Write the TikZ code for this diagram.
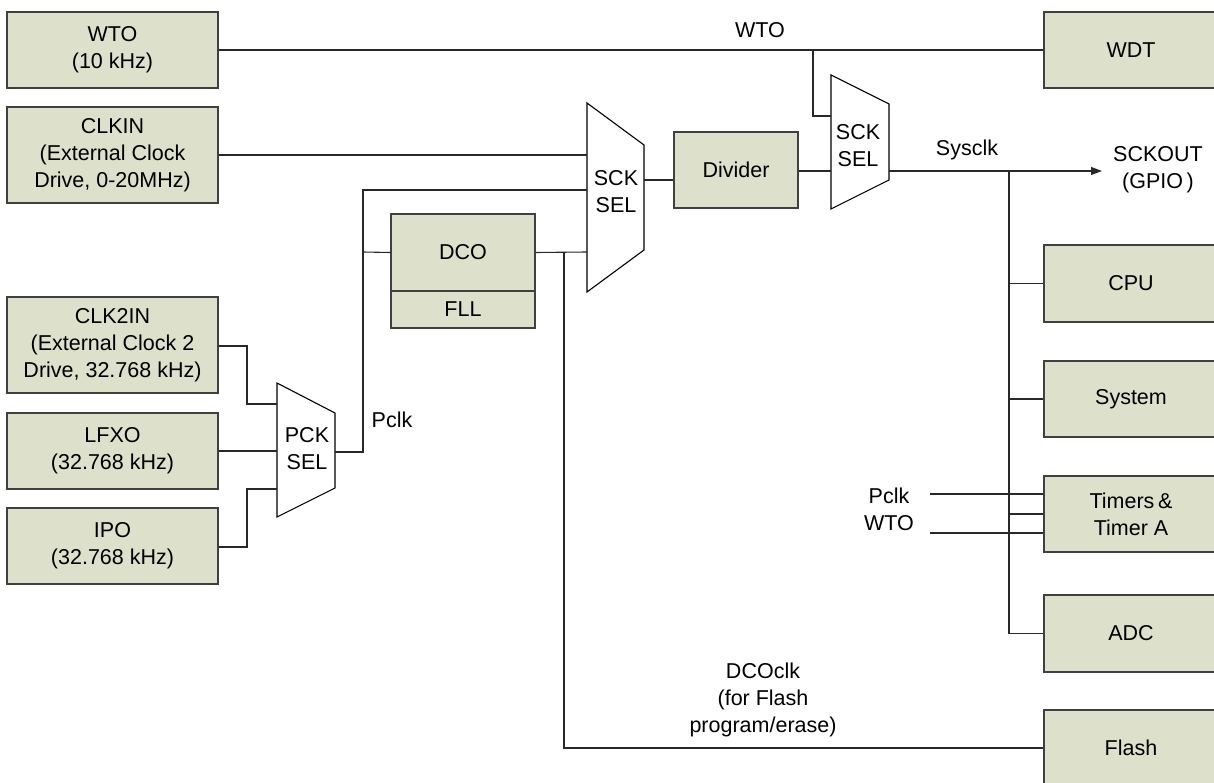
\documentclass[tikz,border=0pt]{standalone}
\usepackage{fontspec}
\setmainfont{Liberation Sans}
\usetikzlibrary{arrows.meta}
\definecolor{boxfill}{RGB}{221,224,203}
\definecolor{boxline}{RGB}{64,64,64}
\definecolor{wire}{RGB}{40,40,40}
\begin{document}
\begin{tikzpicture}[x=1pt,y=-1pt,
  every node/.style={font=\fontsize{21.5}{27}\selectfont, align=center, inner sep=0pt},
  blk/.style={draw=boxline, fill=boxfill, line width=1.2pt, minimum width=#1, anchor=center},
  blk/.default=211pt,
  muxshape/.style={draw=black, fill=white, line width=1.1pt, line join=miter},
  wireline/.style={draw=wire, line width=1.1pt}]
\useasboundingbox (0,0) rectangle (1214,783);
\clip (0,0) rectangle (1214,783);

% left source boxes
\node[blk, minimum height=76pt] (wto) at (112.5,50) {WTO\\(10 kHz)};
\node[blk, minimum height=96pt] (clkin) at (112.5,155) {CLKIN\\(External Clock\\Drive, 0-20MHz)};
\node[blk, minimum height=96pt] (clk2in) at (112.5,345) {CLK2IN\\(External Clock 2\\Drive, 32.768 kHz)};
\node[blk, minimum height=76pt] (lfxo) at (112.5,451) {LFXO\\(32.768 kHz)};
\node[blk, minimum height=76pt] (ipo) at (112.5,546) {IPO\\(32.768 kHz)};

% DCO / FLL
\node[blk=144pt, minimum height=77pt] (dco) at (463,252.5) {DCO};
\node[blk=144pt, minimum height=37pt] (fll) at (463,309.5) {FLL};

% Divider
\node[blk=124pt, minimum height=76pt] (div) at (736,170) {Divider};

% right sink boxes
\node[blk=174pt, minimum height=76pt] (wdt) at (1131,50) {WDT};
\node[blk=174pt, minimum height=77pt] (cpu) at (1131,283.5) {CPU};
\node[blk=174pt, minimum height=76pt] (sys) at (1131,399) {System};
\node[blk=174pt, minimum height=76pt] (tim) at (1131,514) {Timers\,\&\\Timer A};
\node[blk=174pt, minimum height=77pt] (adc) at (1131,633.5) {ADC};
\node[blk=174pt, minimum height=76pt] (flash) at (1131,748) {Flash};

% multiplexers
\draw[muxshape] (587,103) -- (644,145) -- (644,250) -- (587,292) -- cycle;
\node (sck1) at (616,192) {SCK\\SEL};
\draw[muxshape] (831,75) -- (889,104) -- (889,180) -- (831,209) -- cycle;
\node (sck2) at (858,146) {SCK\\SEL};
\draw[muxshape] (277,383) -- (335,413) -- (335,488) -- (277,517) -- cycle;
\node (pck) at (307,449) {PCK\\SEL};

% mux ports
\coordinate (m1a) at (587,155);
\coordinate (m1b) at (587,190);
\coordinate (m1c) at (587,252);
\coordinate (m1o) at (644,180);
\coordinate (m2a) at (831,116);
\coordinate (m2b) at (831,171);
\coordinate (m2o) at (889,171);
\coordinate (pa) at (277,404);
\coordinate (pb) at (277,451);
\coordinate (pc) at (277,489);
\coordinate (po) at (335,452);
\coordinate (wtoj) at (813,50);
\coordinate (pclkj) at (363,252);
\coordinate (dcoj) at (564,252);
\coordinate (busj) at (1009,171);
\coordinate (sckout) at (1102,171);
\coordinate (tpclk) at (930,494);
\coordinate (twto) at (930,533);

% connectors
\draw[wireline] (wto.east) -- (wdt.west);
\draw[wireline] (wtoj) -- (813,116) -- (m2a);
\draw[wireline] (clkin.east) -- (m1a);
\draw[wireline] (clk2in.east |- 0,346) -- (247,346) -- (247,404) -- (pa);
\draw[wireline] (lfxo.east) -- (pb);
\draw[wireline] (ipo.east |- 0,547) -- (247,547) -- (247,489) -- (pc);
\draw[wireline] (po) -- (363,452) -- (363,190) -- (m1b);
\draw[wireline] (pclkj) -- (dco.west);
\draw[wireline] (dco.east) -- (m1c);
\draw[wireline] (dcoj) -- (564,748) -- (flash.west);
\draw[wireline] (m1o) -- (div.west |- m1o);
\draw[wireline] (div.east |- m2b) -- (m2b);
\draw[wireline, -{Triangle[length=11pt,width=8pt]}] (m2o) -- (sckout);
\draw[wireline] (busj) -- (1009,633.5) -- (adc.west);
\draw[wireline] (1009,283.5) -- (cpu.west);
\draw[wireline] (1009,399) -- (sys.west);
\draw[wireline] (1009,514) -- (tim.west);
\draw[wireline] (tpclk) -- (tim.west |- tpclk);
\draw[wireline] (twto) -- (tim.west |- twto);

% labels
\node (lwto) at (760,30) {WTO};
\node (lsys) at (967,150) {Sysclk};
\node (lsckout) at (1158,170) {SCKOUT\\(GPIO\,)};
\node (lpclk1) at (392,420) {Pclk};
\node (lpclk2) at (889,496) {Pclk};
\node (lwto2) at (889,523) {WTO};
\node (ldco) at (763,700) {DCOclk\\(for Flash\\program/erase)};
\end{tikzpicture}
\end{document}
